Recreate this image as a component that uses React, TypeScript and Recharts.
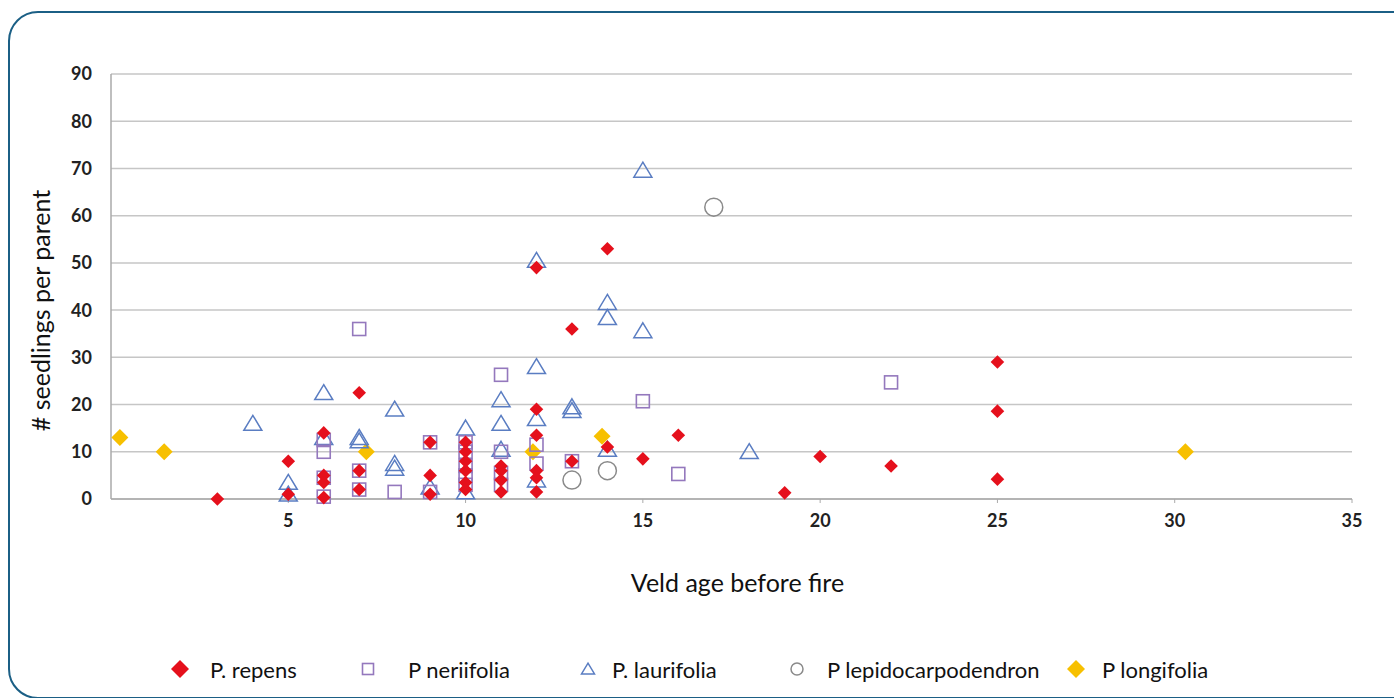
import React from 'react';
import { ScatterChart, Scatter, XAxis, YAxis, CartesianGrid } from 'recharts';

const xTicks = [5, 10, 15, 20, 25, 30, 35];
const yTicks = [0, 10, 20, 30, 40, 50, 60, 70, 80, 90];

const repens = [
  { x: 3, y: 0 }, { x: 5, y: 8 }, { x: 5, y: 1 },
  { x: 6, y: 14 }, { x: 6, y: 5 }, { x: 6, y: 3.5 }, { x: 6, y: 0.3 },
  { x: 7, y: 22.5 }, { x: 7, y: 6 }, { x: 7, y: 2 },
  { x: 9, y: 12 }, { x: 9, y: 5 }, { x: 9, y: 1 },
  { x: 10, y: 12 }, { x: 10, y: 10 }, { x: 10, y: 8 }, { x: 10, y: 6 }, { x: 10, y: 3.5 }, { x: 10, y: 2 },
  { x: 11, y: 7 }, { x: 11, y: 6 }, { x: 11, y: 4 }, { x: 11, y: 1.5 },
  { x: 12, y: 49 }, { x: 12, y: 19 }, { x: 12, y: 13.5 }, { x: 12, y: 6 }, { x: 12, y: 4.5 }, { x: 12, y: 1.5 },
  { x: 13, y: 36 }, { x: 13, y: 8 },
  { x: 14, y: 53 }, { x: 14, y: 11 },
  { x: 15, y: 8.5 }, { x: 16, y: 13.5 }, { x: 19, y: 1.3 }, { x: 20, y: 9 }, { x: 22, y: 7 },
  { x: 25, y: 29 }, { x: 25, y: 18.6 }, { x: 25, y: 4.2 },
];

const neriifolia = [
  { x: 6, y: 12.5 }, { x: 6, y: 10 }, { x: 6, y: 4.5 }, { x: 6, y: 0.5 },
  { x: 7, y: 36 }, { x: 7, y: 6 }, { x: 7, y: 2 },
  { x: 8, y: 1.5 },
  { x: 9, y: 12 }, { x: 9, y: 1.5 },
  { x: 10, y: 12 }, { x: 10, y: 10 }, { x: 10, y: 7 }, { x: 10, y: 5 }, { x: 10, y: 3 },
  { x: 11, y: 26.3 }, { x: 11, y: 10 }, { x: 11, y: 5.5 }, { x: 11, y: 3 },
  { x: 12, y: 11.5 }, { x: 12, y: 7.5 },
  { x: 13, y: 8 }, { x: 15, y: 20.7 }, { x: 16, y: 5.3 }, { x: 22, y: 24.7 },
];

const laurifolia = [
  { x: 4, y: 16 }, { x: 5, y: 3.5 }, { x: 5, y: 1 },
  { x: 6, y: 22.5 }, { x: 6, y: 13 },
  { x: 7, y: 13 }, { x: 7, y: 12.3 },
  { x: 8, y: 19 }, { x: 8, y: 7.5 }, { x: 8, y: 6.5 },
  { x: 9, y: 2.5 },
  { x: 10, y: 15 }, { x: 10, y: 1.5 },
  { x: 11, y: 21 }, { x: 11, y: 16 }, { x: 11, y: 10.5 },
  { x: 12, y: 50.5 }, { x: 12, y: 28 }, { x: 12, y: 17 }, { x: 12, y: 4 },
  { x: 13, y: 19.5 }, { x: 13, y: 18.7 },
  { x: 14, y: 41.6 }, { x: 14, y: 38.4 }, { x: 14, y: 10.5 },
  { x: 15, y: 69.6 }, { x: 15, y: 35.6 }, { x: 18, y: 10 },
];

const lepidocarpodendron = [
  { x: 17, y: 61.8 }, { x: 13, y: 4 }, { x: 14, y: 6 },
];

const longifolia = [
  { x: 0.25, y: 13 }, { x: 1.5, y: 10 }, { x: 7.2, y: 10 }, { x: 11.9, y: 10 }, { x: 13.85, y: 13.3 }, { x: 30.3, y: 10 },
];

const RED = '#e5101c';
const PURPLE = '#9478bd';
const BLUE = '#5a7dc2';
const GREY = '#8a8a8a';
const YELLOW = '#f7c000';
const FONT = 'Lato, "Open Sans", sans-serif';

const diamond = (cx: number, cy: number, r: number, color: string) =>
  <path d={`M${cx},${cy - r}L${cx + r},${cy}L${cx},${cy + r}L${cx - r},${cy}Z`} fill={color} stroke="none" />;
const square = (cx: number, cy: number, s: number) =>
  <rect x={cx - s / 2} y={cy - s / 2} width={s} height={s} fill="none" stroke={PURPLE} strokeWidth={1.6} />;
const triangle = (cx: number, cy: number, w: number) =>
  <path d={`M${cx},${cy - w * 0.45}L${cx + w / 2},${cy + w * 0.38}L${cx - w / 2},${cy + w * 0.38}Z`} fill="none" stroke={BLUE} strokeWidth={1.5} />;
const circle = (cx: number, cy: number, r: number) =>
  <circle cx={cx} cy={cy} r={r} fill="none" stroke={GREY} strokeWidth={1.5} />;

const RedShape = (p: any) => diamond(p.cx, p.cy, 6.8, RED);
const YellowShape = (p: any) => diamond(p.cx, p.cy, 8.5, YELLOW);
const SquareShape = (p: any) => square(p.cx, p.cy, 13);
const TriShape = (p: any) => triangle(p.cx, p.cy, 18);
const CircleShape = (p: any) => circle(p.cx, p.cy, 9);

const legendItems = [
  { name: 'P. repens', icon: (cx: number, cy: number) => diamond(cx, cy, 9, RED), left: 168, gap: 18 },
  { name: 'P neriifolia', icon: (cx: number, cy: number) => square(cx, cy, 11), left: 356, gap: 28 },
  { name: 'P. laurifolia', icon: (cx: number, cy: number) => triangle(cx, cy, 13), left: 576, gap: 12 },
  { name: 'P lepidocarpodendron', icon: (cx: number, cy: number) => circle(cx, cy, 6), left: 785, gap: 18 },
  { name: 'P longifolia', icon: (cx: number, cy: number) => diamond(cx, cy, 9, YELLOW), left: 1064, gap: 14 },
];

const YLabel = (props: any) => {
  const vb = props.viewBox;
  const cx = 40;
  const cy = vb.y + vb.height / 2 + 24;
  return (
    <text x={cx} y={cy} transform={`rotate(-90, ${cx}, ${cy})`} textAnchor="middle" dominantBaseline="central"
      fontFamily={FONT} fontSize={25} fill="#111">
      # seedlings per parent
    </text>
  );
};

const XLabel = (props: any) => {
  const vb = props.viewBox;
  return (
    <text x={vb.x + vb.width / 2 + 6} y={582} textAnchor="middle" dominantBaseline="central"
      fontFamily={FONT} fontSize={25} fill="#111">
      Veld age before fire
    </text>
  );
};

export default function App() {
  return (
    <div style={{ position: 'absolute', left: 0, top: 0, width: 1394, height: 698, overflow: 'hidden', background: '#fff' }}>
      <div style={{ position: 'absolute', left: 8, top: 11, width: 1430, height: 688, border: '2px solid #1b5f85', borderRadius: 30, boxSizing: 'border-box' }} />
      <div style={{ position: 'absolute', left: 0, top: 0 }}>
        <ScatterChart width={1394} height={698} margin={{ top: 74, right: 42, bottom: 169, left: 0 }}>
          <CartesianGrid horizontal={true} vertical={false} stroke="#c6c6c6" strokeWidth={1.5} />
          <XAxis type="number" dataKey="x" domain={[0, 35]} ticks={xTicks} height={30}
            axisLine={{ stroke: '#aaaaaa', strokeWidth: 1.5 }} tickLine={{ stroke: '#aaaaaa' }} tickSize={4} tickMargin={11}
            tick={{ fontFamily: FONT, fontSize: 18, fontWeight: 700, fill: '#222' }}
            label={<XLabel />} />
          <YAxis type="number" dataKey="y" domain={[0, 90]} ticks={yTicks} width={111}
            axisLine={{ stroke: '#aaaaaa', strokeWidth: 1.5 }} tickLine={false} tickSize={0} tickMargin={19}
            tick={{ fontFamily: FONT, fontSize: 18, fontWeight: 700, fill: '#222' }}
            label={<YLabel />} />
          <Scatter name="P longifolia" data={longifolia} shape={YellowShape} isAnimationActive={false} />
          <Scatter name="P lepidocarpodendron" data={lepidocarpodendron} shape={CircleShape} isAnimationActive={false} />
          <Scatter name="P. laurifolia" data={laurifolia} shape={TriShape} isAnimationActive={false} />
          <Scatter name="P neriifolia" data={neriifolia} shape={SquareShape} isAnimationActive={false} />
          <Scatter name="P. repens" data={repens} shape={RedShape} isAnimationActive={false} />
        </ScatterChart>
      </div>
      {legendItems.map((it) => (
        <div key={it.name} style={{ position: 'absolute', left: it.left, top: 654, height: 30, display: 'flex', alignItems: 'center', fontFamily: FONT, fontSize: 22, color: '#111', whiteSpace: 'nowrap' }}>
          <svg width={24} height={24} style={{ marginRight: it.gap }}>
            {it.icon(12, 12)}
          </svg>
          <span>{it.name}</span>
        </div>
      ))}
    </div>
  );
}
